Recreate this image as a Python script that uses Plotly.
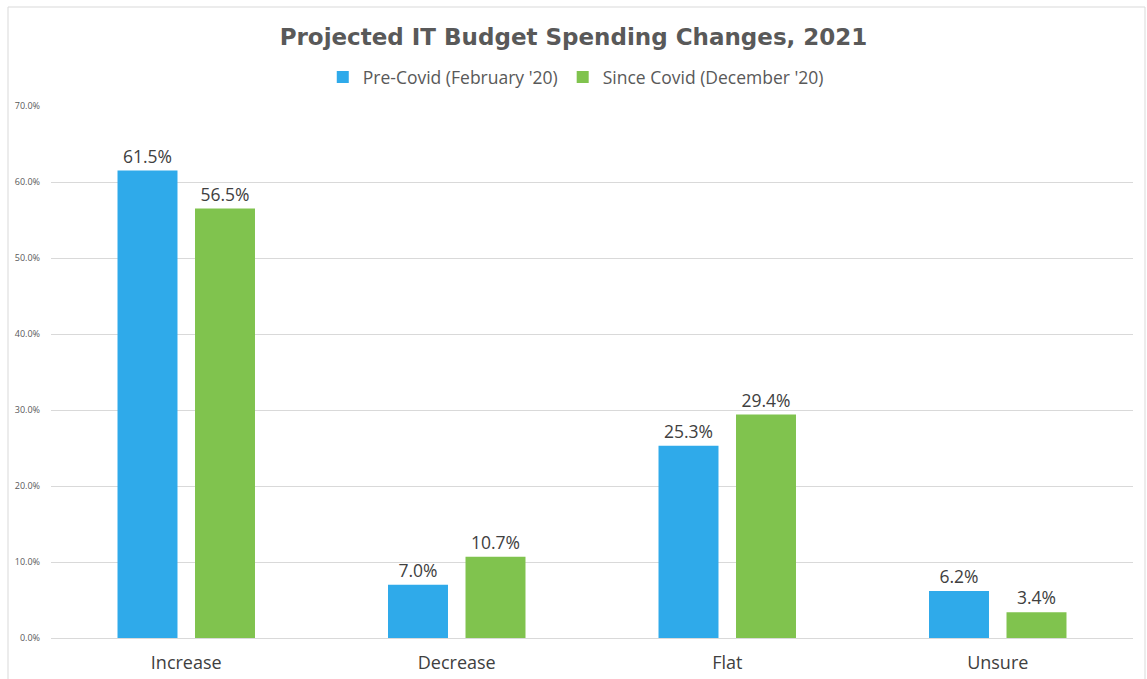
import plotly.graph_objects as go

categories = ["Increase", "Decrease", "Flat", "Unsure"]
pre_covid = [61.5, 7.0, 25.3, 6.2]
since_covid = [56.5, 10.7, 29.4, 3.4]
series_names = ["Pre-Covid (February '20)", "Since Covid (December '20)"]
y_ticks = [0, 10, 20, 30, 40, 50, 60, 70]
y_tick_text = [f"{v:.1f}%" for v in y_ticks]

W, H = 1147, 679
L, R, T, B = 51, 14, 106, 41
pw, ph = W - L - R, H - T - B

BLUE = "#2FAAEA"
GREEN = "#80C34E"
FONT = "'Open Sans', sans-serif"

fig = go.Figure()
for name, vals, col in [(series_names[0], pre_covid, BLUE), (series_names[1], since_covid, GREEN)]:
    fig.add_trace(go.Bar(
        x=categories, y=vals, name=name, marker=dict(color=col, line=dict(width=0)),
        texttemplate="%{y:.1f}%", textposition="outside", cliponaxis=False,
        textfont=dict(size=17.5, color="#404040", family=FONT),
    ))

fig.update_layout(
    width=W, height=H,
    margin=dict(l=L, r=R, t=T, b=B, autoexpand=False),
    paper_bgcolor="white", plot_bgcolor="white",
    barmode="group", bargap=0.427, bargroupgap=0.226,
    font=dict(family=FONT, color="#595959"),
    title=dict(text="<b>Projected IT Budget Spending Changes, 2021</b>",
               x=0.5, xanchor="center", y=1 - 37 / H, yanchor="middle",
               font=dict(size=23, color="#595959", family="'DejaVu Sans', sans-serif")),
    legend=dict(orientation="h", x=0.485, xanchor="center", y=(H - B - 77) / ph, yanchor="middle",
                font=dict(size=17.5, color="#595959", family=FONT), itemwidth=30,
                traceorder="normal"),
    xaxis=dict(showgrid=False, showline=True, linecolor="#d9d9d9", linewidth=1,
               ticks="", ticklabelstandoff=8, automargin=False,
               tickfont=dict(size=18, color="#404040", family=FONT)),
    yaxis=dict(range=[0, 70], tickvals=y_ticks, ticktext=y_tick_text,
               showgrid=True, gridcolor="#d9d9d9", gridwidth=1, zeroline=False,
               showline=False, ticks="", ticklabelstandoff=10, automargin=False,
               tickfont=dict(size=9, color="#595959", family=FONT)),
    shapes=[dict(type="rect", xref="paper", yref="paper",
                 x0=(8 - L) / pw, x1=(1145 - L) / pw,
                 y0=-0.2, y1=(H - B - 7) / ph,
                 line=dict(color="#d9d9d9", width=1), layer="below")],
)

fig.write_html("out.html")
